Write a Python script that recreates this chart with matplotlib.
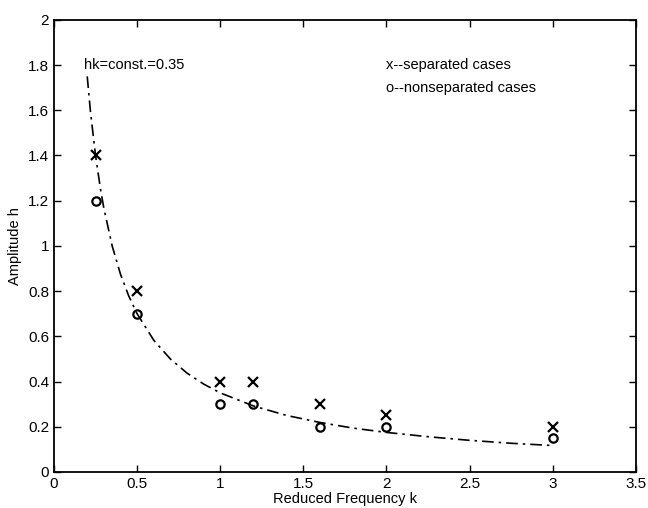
import matplotlib.pyplot as plt

plt.rc('font', family=['Liberation Sans', 'DejaVu Sans'])

# hk = const = 0.35 curve
curve_k = [0.2, 0.22, 0.25, 0.28, 0.3, 0.35, 0.4, 0.45, 0.5, 0.6, 0.7, 0.8, 0.9, 1.0,
           1.2, 1.4, 1.6, 1.8, 2.0, 2.25, 2.5, 2.75, 3.0]
curve_h = [1.75, 1.59, 1.40, 1.25, 1.167, 1.0, 0.875, 0.778, 0.70, 0.583, 0.50, 0.4375,
           0.389, 0.35, 0.292, 0.25, 0.219, 0.194, 0.175, 0.156, 0.14, 0.127, 0.117]

sep_k = [0.25, 0.5, 1.0, 1.2, 1.6, 2.0, 3.0]
sep_h = [1.4, 0.8, 0.4, 0.4, 0.3, 0.25, 0.2]

nonsep_k = [0.25, 0.5, 1.0, 1.2, 1.6, 2.0, 3.0]
nonsep_h = [1.2, 0.7, 0.3, 0.3, 0.2, 0.2, 0.15]

xticks = [0, 0.5, 1, 1.5, 2, 2.5, 3, 3.5]
yticks = [0, 0.2, 0.4, 0.6, 0.8, 1, 1.2, 1.4, 1.6, 1.8, 2]

fig = plt.figure(figsize=(6.48, 5.08), dpi=100)
ax = fig.add_axes([0.0833, 0.0709, 0.898, 0.89])

ax.plot(curve_k, curve_h, color='black', linestyle='-.', linewidth=1.2, dashes=(7, 3, 1.5, 3))
ax.plot(sep_k, sep_h, linestyle='none', marker='x', color='black', markersize=7, markeredgewidth=1.6)
ax.plot(nonsep_k, nonsep_h, linestyle='none', marker='o', markerfacecolor='none',
        markeredgecolor='black', markersize=6, markeredgewidth=1.6)

ax.text(0.18, 1.8, "hk=const.=0.35", fontsize=10.5, va='center', ha='left')
ax.text(2.0, 1.8, "x--separated cases", fontsize=10.5, va='center', ha='left')
ax.text(2.0, 1.70, "o--nonseparated cases", fontsize=10.5, va='center', ha='left')

ax.set_xlim(0, 3.5)
ax.set_ylim(0, 2)
ax.set_xticks(xticks)
ax.set_xticklabels(["0", "0.5", "1", "1.5", "2", "2.5", "3", "3.5"])
ax.set_yticks(yticks)
ax.set_yticklabels(["0", "0.2", "0.4", "0.6", "0.8", "1", "1.2", "1.4", "1.6", "1.8", "2"])
ax.tick_params(direction='in', top=True, right=True, labelsize=11, length=5, width=1)
for s in ax.spines.values():
    s.set_linewidth(1.3)

ax.set_xlabel("Reduced Frequency k", fontsize=10.5, labelpad=1)
ax.set_ylabel("Amplitude h", fontsize=10.5, labelpad=4)

plt.savefig("out.png", dpi=100)
